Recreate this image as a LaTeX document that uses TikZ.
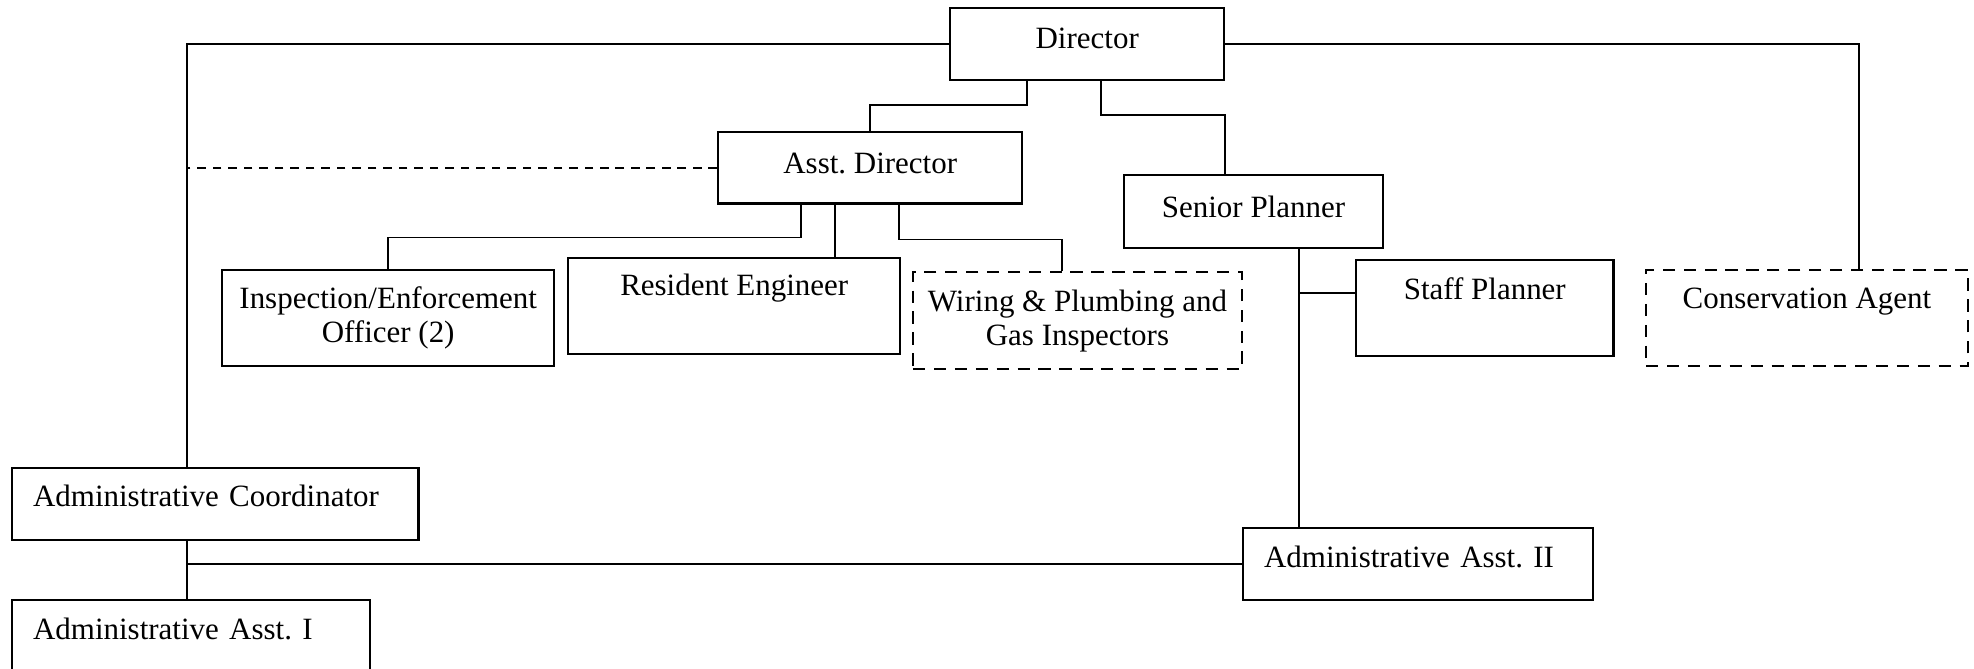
\documentclass[tikz,border=0pt]{standalone}
\usepackage{fontspec}
\setmainfont{Liberation Serif}
\usepackage{tikz}
\usetikzlibrary{calc}
\frenchspacing

\begin{document}
\begin{tikzpicture}[x=0.0143cm,y=-0.0143cm,
  post/.style={draw,line width=0.9pt,inner sep=0pt,align=center,
    font=\fontsize{12.6}{13.8}\selectfont},
  vacant/.style={post,dash pattern=on 5pt off 3.5pt},
  lefttext/.style={align=left,inner xsep=0.3cm},
  link/.style={line width=0.7pt}]
\useasboundingbox (0,0) rectangle (1974,669);

\node[post,below right,minimum width=3.92cm,minimum height=1.03cm,text depth=5pt] (dir) at (949,7) {Director};
\node[post,below right,minimum width=4.35cm,minimum height=1.02cm,text depth=4pt] (ad) at (717,131) {Asst. Director};
\node[post,below right,minimum width=3.70cm,minimum height=1.04cm,text depth=4pt] (sp) at (1123,174) {Senior Planner};
\node[post,below right,minimum width=4.75cm,minimum height=1.37cm] (insp) at (221,269) {Inspection/Enforcement\\Officer (2)};
\node[post,below right,minimum width=4.75cm,minimum height=1.37cm,text depth=17pt] (res) at (567,257) {Resident Engineer};
\node[vacant,below right,minimum width=4.70cm,minimum height=1.39cm] (wir) at (912,271) {Wiring \& Plumbing and\\Gas Inspectors};
\node[post,below right,minimum width=3.68cm,minimum height=1.37cm,text depth=15.5pt] (staff) at (1355,259) {Staff Planner};
\node[vacant,below right,minimum width=4.60cm,minimum height=1.37cm,text depth=16pt] (cons) at (1645,269) {Conservation Agent};
\node[post,lefttext,below right,text width=5.21cm,minimum height=1.03cm,text depth=7pt] (coord) at (11,467) {Administrative Coordinator};
\node[post,lefttext,below right,text width=4.52cm,minimum height=1.37cm,text depth=16pt] (aa1) at (11,599) {Administrative Asst. I};
\node[post,lefttext,below right,text width=4.40cm,minimum height=1.03cm,text depth=6pt] (aa2) at (1242,527) {Administrative Asst. II};

\coordinate (spine) at ($(coord.north west)+(176,0)$);
\coordinate (sprun) at ($(sp.south west)+(176,0)$);
\coordinate (adres) at ($(ad.south west)+(118,0)$);
\coordinate (stf) at ($(staff.north west)+(0,34)$);

\draw[link] (dir.west) -| (spine);
\draw[link] (dir.east) -| ($(cons.north west)+(214,0)$);
\draw[link] ($(dir.south west)+(78,0)$) -- ++(0,24) -| (ad.north);
\draw[link] ($(dir.south west)+(152,0)$) -- ++(0,34) -| ($(sp.north west)+(102,0)$);
\draw[link,dash pattern=on 3.5pt off 2.8pt] (ad.west) -- (ad.west -| spine);
\draw[link] ($(ad.south west)+(84,0)$) -- ++(0,33) -| (insp.north);
\draw[link] (adres) -- (adres |- res.north);
\draw[link] ($(ad.south west)+(182,0)$) -- ++(0,35) -| ($(wir.north west)+(150,0)$);
\draw[link] (sprun) -- (sprun |- aa2.north);
\draw[link] (stf) -- (stf -| sprun);
\draw[link] (coord.south -| spine) -- (aa1.north -| spine);
\draw[link] (aa2.west) -- (aa2.west -| spine);
\end{tikzpicture}
\end{document}
